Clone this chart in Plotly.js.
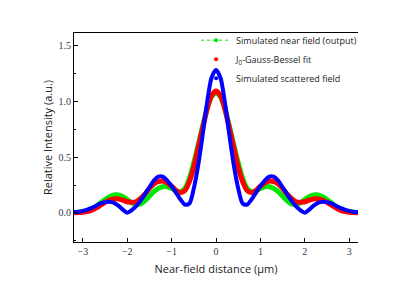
<!DOCTYPE html>
<html>
<head>
<meta charset="utf-8">
<script src="https://cdn.plot.ly/plotly-3.0.1.min.js"></script>
<style>html,body{margin:0;padding:0;background:#fff;}#chart{width:415px;height:291px;}</style>
</head>
<body>
<div id="chart"></div>
<script>
// Near-field distance (µm)
const distance = [-3.2,-3.1,-3.0,-2.9,-2.8,-2.7,-2.6,-2.5,-2.4,-2.3,-2.2,-2.1,-2.0,-1.9,-1.8,-1.7,-1.6,-1.5,-1.4,-1.3,-1.2,-1.1,-1.0,-0.9,-0.8,-0.7,-0.6,-0.5,-0.4,-0.3,-0.2,-0.1,0.0,
  0.1,0.2,0.3,0.4,0.5,0.6,0.7,0.8,0.9,1.0,1.1,1.2,1.3,1.4,1.5,1.6,1.7,1.8,1.9,2.0,2.1,2.2,2.3,2.4,2.5,2.6,2.7,2.8,2.9,3.0,3.1,3.2];

// Simulated near field (output)
const nearField = [0.003,0.006,0.01,0.02,0.035,0.06,0.09,0.12,0.145,0.16,0.16,0.145,0.12,0.09,0.075,0.08,0.11,0.15,0.19,0.22,0.235,0.235,0.22,0.20,0.19,0.22,0.31,0.45,0.61,0.78,0.93,1.04,1.07,
  1.04,0.93,0.78,0.61,0.45,0.31,0.22,0.19,0.20,0.22,0.235,0.235,0.22,0.19,0.15,0.11,0.08,0.075,0.09,0.12,0.145,0.16,0.16,0.145,0.12,0.09,0.06,0.035,0.02,0.01,0.006,0.003];

// J0-Gauss-Bessel fit
const besselFit = [0.002,0.003,0.006,0.012,0.025,0.045,0.07,0.095,0.115,0.125,0.125,0.115,0.10,0.095,0.10,0.13,0.17,0.22,0.26,0.28,0.285,0.27,0.24,0.20,0.18,0.20,0.28,0.41,0.59,0.76,0.93,1.05,1.09,
  1.05,0.93,0.76,0.59,0.41,0.28,0.20,0.18,0.20,0.24,0.27,0.285,0.28,0.26,0.22,0.17,0.13,0.10,0.095,0.10,0.115,0.125,0.125,0.115,0.095,0.07,0.045,0.025,0.012,0.006,0.003,0.002];

// Simulated scattered field
const scattered = [0.005,0.01,0.018,0.03,0.045,0.065,0.085,0.097,0.10,0.09,0.065,0.03,0.002,0.025,0.06,0.11,0.17,0.23,0.29,0.325,0.325,0.29,0.24,0.18,0.12,0.075,0.085,0.22,0.43,0.70,0.99,1.21,1.28,
  1.21,0.99,0.70,0.43,0.22,0.085,0.075,0.12,0.18,0.24,0.29,0.325,0.325,0.29,0.23,0.17,0.11,0.06,0.025,0.002,0.03,0.065,0.09,0.10,0.097,0.085,0.065,0.045,0.03,0.018,0.01,0.005];

const seriesNames = ['Simulated near field (output)', 'J<sub>0</sub>-Gauss-Bessel fit', 'Simulated scattered field'];
const colors = ['#00e600', '#ff0000', '#0000ff'];

const traces = [
  {x: distance, y: nearField, type: 'scatter', mode: 'lines', line: {color: colors[0], width: 5, shape: 'spline', smoothing: 0.8}, showlegend: false, hoverinfo: 'skip'},
  {x: distance, y: besselFit, type: 'scatter', mode: 'lines', line: {color: colors[1], width: 5, shape: 'spline', smoothing: 0.8}, showlegend: false, hoverinfo: 'skip'},
  {x: distance, y: scattered, type: 'scatter', mode: 'lines', line: {color: colors[2], width: 4, shape: 'spline', smoothing: 0.8}, showlegend: false, hoverinfo: 'skip'},
  // legend entries
  {x: [null], y: [null], type: 'scatter', mode: 'lines+markers', name: seriesNames[0], line: {color: colors[0], width: 1, dash: 'dot'}, marker: {color: colors[0], size: 4}},
  {x: [null], y: [null], type: 'scatter', mode: 'markers', name: seriesNames[1], marker: {color: colors[1], size: 4}},
  {x: [null], y: [null], type: 'scatter', mode: 'markers', name: seriesNames[2], marker: {color: colors[2], size: 4}}
];

const tickFont = {family: '"Liberation Serif", "DejaVu Serif", serif', size: 10, color: '#2f3b4c'};
const titleFont = {family: '"Open Sans", "Liberation Sans", sans-serif', size: 11, color: '#222'};

const layout = {
  width: 415, height: 291,
  margin: {l: 74, r: 57, t: 33, b: 49},
  paper_bgcolor: '#fff', plot_bgcolor: '#fff',
  showlegend: true,
  legend: {x: 0.43, y: 1.035, xanchor: 'left', yanchor: 'top', bgcolor: 'rgba(0,0,0,0)',
    font: {family: '"Open Sans", "Liberation Sans", sans-serif', size: 9, color: '#222'},
    tracegroupgap: 0, itemwidth: 30},
  xaxis: {
    range: [-3.2, 3.2], dtick: 1, tick0: 0,
    showgrid: false, zeroline: false,
    showline: true, linecolor: '#000', linewidth: 1, mirror: true,
    ticks: 'inside', ticklen: 4, tickcolor: '#000',
    tickfont: tickFont,
    title: {text: 'Near-field distance (μm)', font: titleFont, standoff: 9}
  },
  yaxis: {
    range: [-0.26, 1.61], dtick: 0.5, tick0: 0, tickformat: '.1f',
    showgrid: false, zeroline: false,
    showline: true, linecolor: '#000', linewidth: 1, mirror: false,
    ticks: 'inside', ticklen: 4, tickcolor: '#000',
    minor: {dtick: 0.25, ticks: 'inside', ticklen: 2, tickcolor: '#000'},
    tickfont: tickFont,
    title: {text: 'Relative Intensity (a.u.)', font: titleFont, standoff: 3}
  }
};

Plotly.newPlot('chart', traces, layout, {displayModeBar: false, staticPlot: true});
</script>
</body>
</html>
